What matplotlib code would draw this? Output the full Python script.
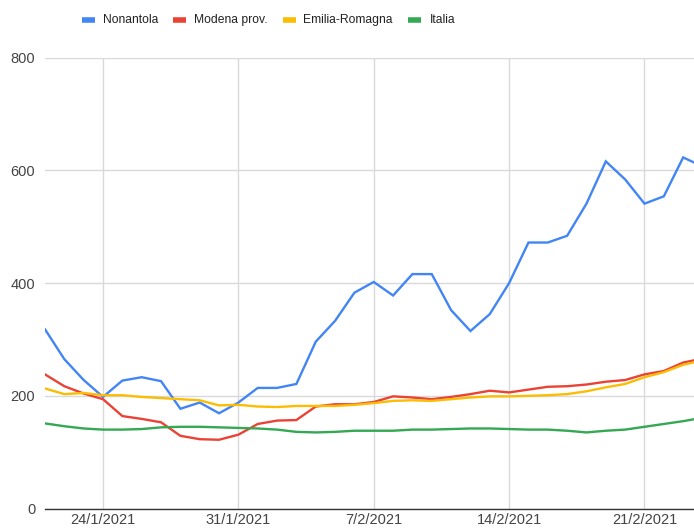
import matplotlib
matplotlib.use("Agg")
import matplotlib.pyplot as plt
from matplotlib.lines import Line2D
import pandas as pd

# daily values, 21/1/2021 .. 24/2/2021
start_date = "2021-01-21"
nonantola = [318, 265, 228, 198, 227, 233, 226, 177, 188, 169, 188, 214, 214, 221,
             296, 333, 383, 402, 378, 416, 416, 352, 315, 345, 400, 472, 472, 484,
             541, 616, 584, 541, 554, 623, 607]
modena = [238, 217, 204, 194, 164, 159, 153, 129, 123, 122, 131, 150, 156, 157,
          181, 185, 185, 189, 199, 197, 194, 198, 203, 209, 206, 211, 216, 217,
          220, 225, 228, 238, 244, 259, 266]
emilia = [213, 203, 205, 201, 201, 198, 196, 194, 192, 183, 184, 181, 180, 182,
          182, 182, 184, 187, 191, 192, 191, 194, 197, 199, 199, 200, 201, 203,
          208, 215, 221, 233, 242, 255, 263]
italia = [151, 146, 142, 140, 140, 141, 144, 145, 145, 144, 143, 142, 140, 136,
          135, 136, 138, 138, 138, 140, 140, 141, 142, 142, 141, 140, 140, 138,
          135, 138, 140, 145, 150, 155, 161]

series_names = ["Nonantola", "Modena prov.", "Emilia-Romagna", "Italia"]
series_colors = ["#4285F4", "#EA4335", "#FBBC04", "#34A853"]
week_ticks = ["2021-01-24", "2021-01-31", "2021-02-07", "2021-02-14", "2021-02-21"]
y_ticks = [0, 200, 400, 600, 800]

dates = pd.date_range(start_date, periods=len(nonantola), freq="D")

fig = plt.figure(figsize=(6.94, 5.28), dpi=100)
ax = fig.add_axes([45 / 694, 19.5 / 528, 1 - 45 / 694, 450.8 / 528])

for vals, name, col in zip([nonantola, modena, emilia, italia], series_names, series_colors):
    ax.plot(dates, vals, color=col, lw=1.7, label=name, solid_joinstyle="miter")

ax.set_ylim(0, 800)
ax.set_xlim(dates[0], dates[0] + pd.Timedelta(days=33.56))

ticks = pd.to_datetime(week_ticks)
ax.set_xticks(ticks)
ax.set_xticklabels([f"{d.day}/{d.month}/{d.year}" for d in ticks])
ax.set_yticks(y_ticks)
ax.grid(True, color="#d9d9d9", lw=1)
ax.set_axisbelow(True)
for s in ["top", "right", "left"]:
    ax.spines[s].set_visible(False)
ax.spines["bottom"].set_color("#333333")
ax.spines["bottom"].set_linewidth(1)
ax.tick_params(axis="both", length=0, labelsize=10.5, labelcolor="#444444",
               labelfontfamily="Liberation Sans")
ax.tick_params(axis="x", pad=3)
ax.tick_params(axis="y", pad=7)

# legend drawn along the top
leg_items = [(82, 103), (173, 194), (283, 303), (408, 430)]
for (mx, tx), name, col in zip(leg_items, series_names, series_colors):
    fig.add_artist(Line2D([mx / 694, (mx + 13) / 694], [1 - 20 / 528, 1 - 20 / 528],
                          color=col, lw=4, solid_capstyle="butt"))
    fig.text(tx / 694, 1 - 20 / 528, name, va="center", ha="left", fontsize=8.7,
             color="#222222", family="Liberation Sans")

fig.savefig("out.png", dpi=100)
